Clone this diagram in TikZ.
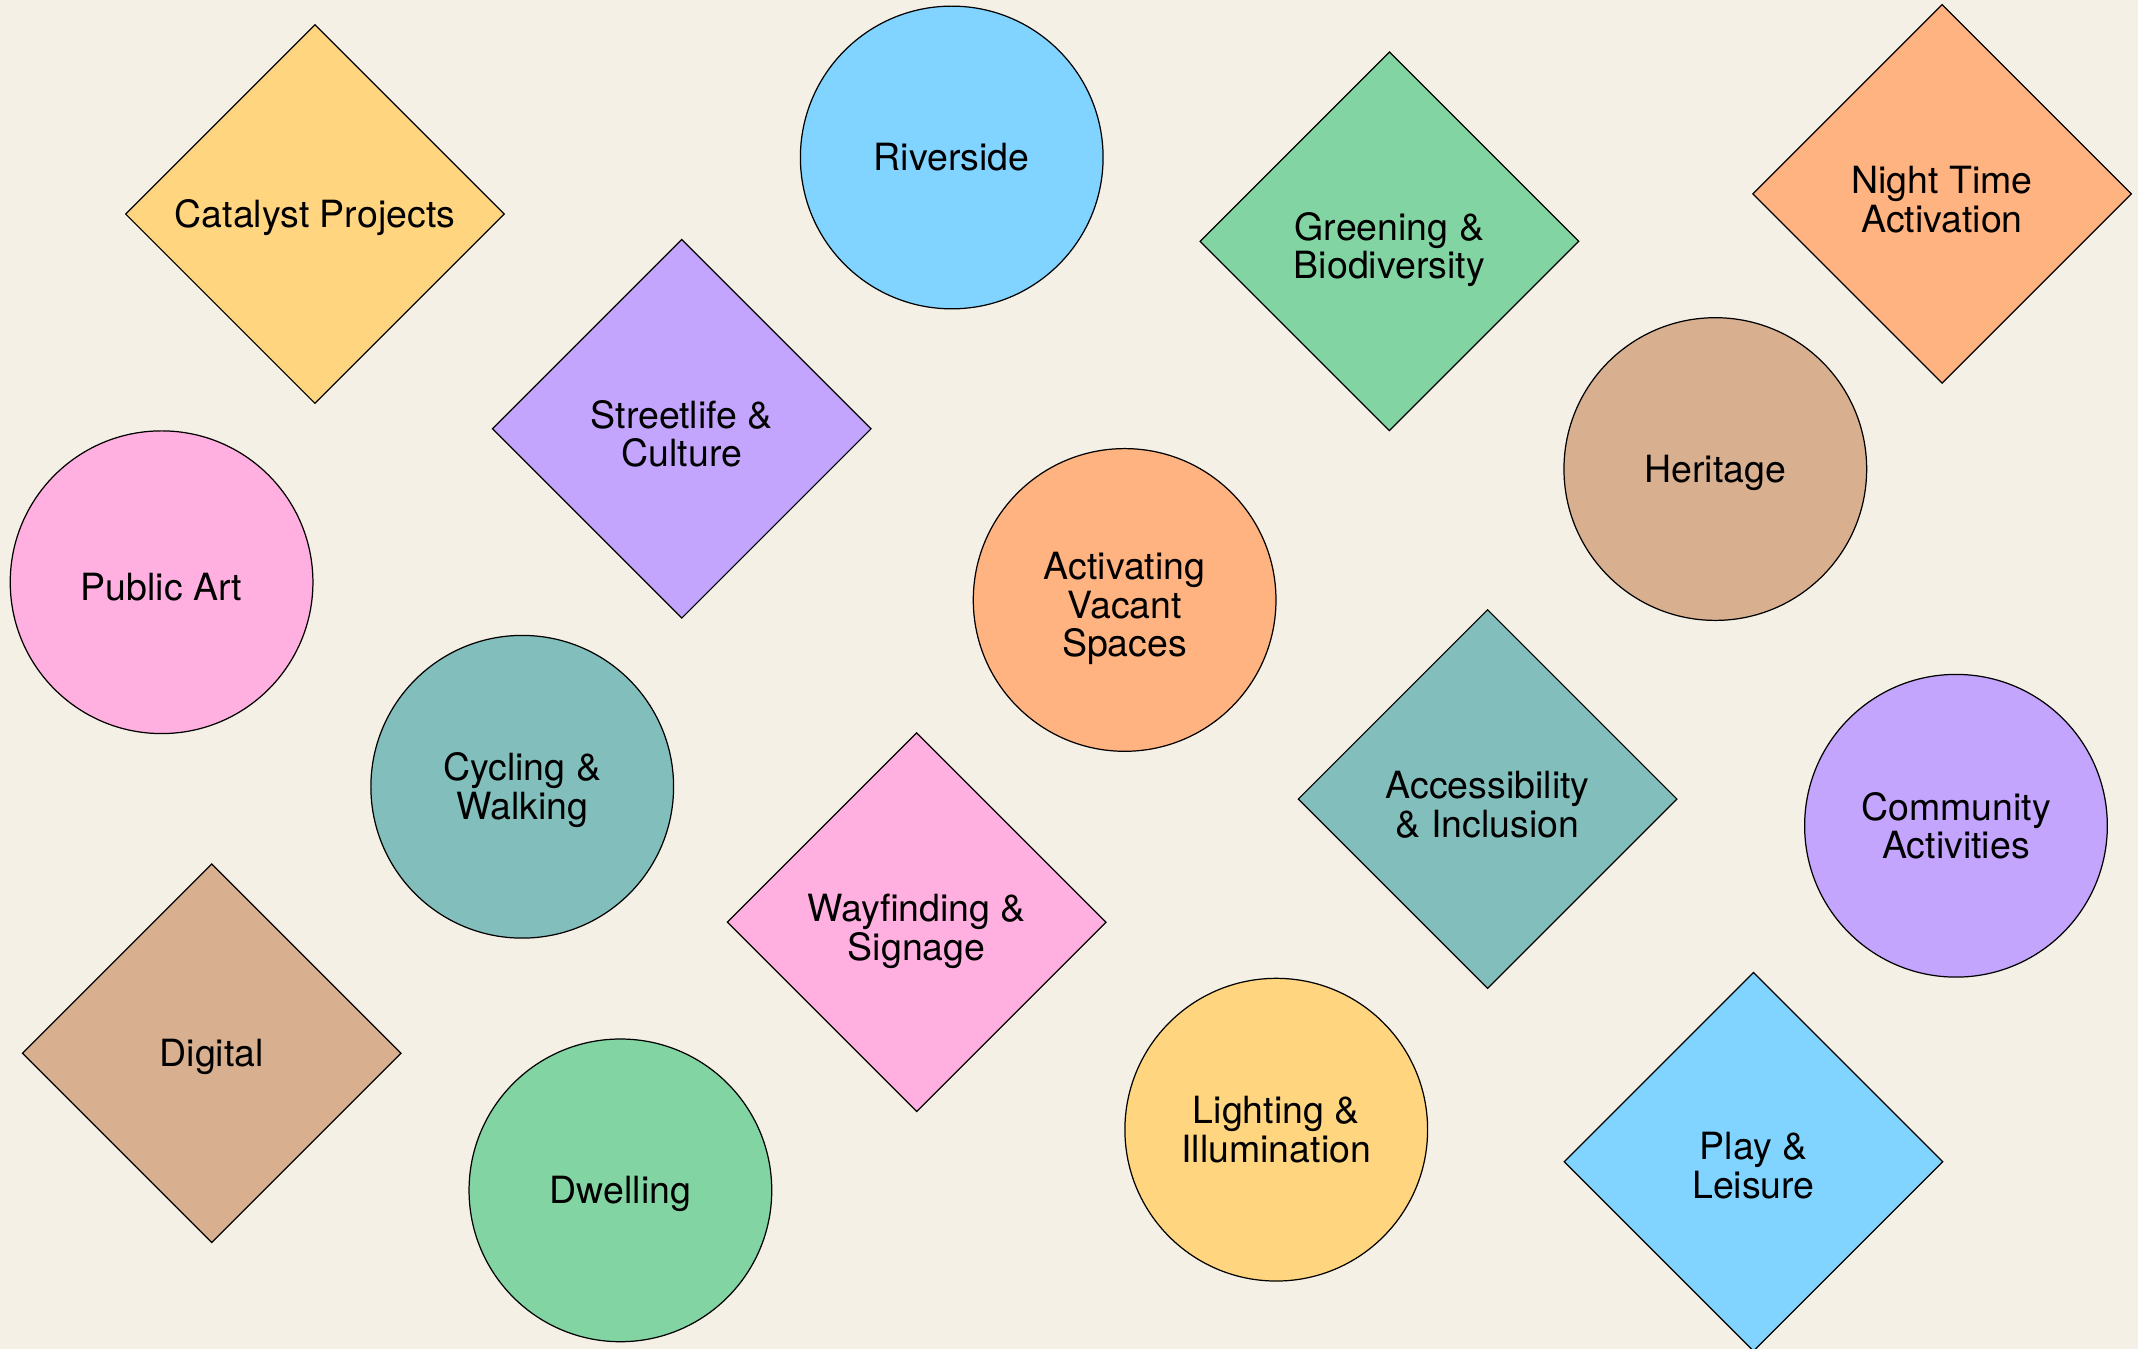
\documentclass[tikz,border=0pt]{standalone}
\usepackage{fontspec}
\setmainfont{TeX Gyre Heros}
\usetikzlibrary{shapes.geometric}
\definecolor{bgc}{HTML}{F5F0E6}
\definecolor{cyel}{HTML}{FFD580}
\definecolor{cpur}{HTML}{C4A5FE}
\definecolor{cblu}{HTML}{80D4FF}
\definecolor{cgrn}{HTML}{82D5A3}
\definecolor{cora}{HTML}{FFB380}
\definecolor{ctan}{HTML}{D8B090}
\definecolor{cteal}{HTML}{82BEBB}
\definecolor{cpink}{HTML}{FFB0E0}
\tikzset{
  base/.style={draw=black, line width=0.45pt, inner sep=0pt},
  dia/.style={base, diamond, aspect=1, minimum width=139pt, minimum height=139pt},
  circ/.style={base, circle, minimum size=111pt},
  txt/.style={inner sep=0pt, align=center, text=black,
    font=\fontsize{13.75}{14.2}\selectfont}
}
\begin{document}
\begin{tikzpicture}[x=0.5pt,y=-0.5pt]
\fill[bgc] (0,0) rectangle (1568,989.3);
\useasboundingbox (0,0) rectangle (1568,989.3);
\begin{scope}
\clip (0,0) rectangle (1568,989.3);
% diamonds
\node[dia, fill=cyel] (catalyst) at (231,157) {};
\node[dia, fill=cpur] (street) at (500,314.5) {};
\node[dia, fill=cgrn] (green) at (1019,177) {};
\node[dia, fill=cora] (night) at (1424.3,142.2) {};
\node[dia, fill=cteal] (access) at (1091,586) {};
\node[dia, fill=cpink] (way) at (672.3,676.3) {};
\node[dia, fill=ctan] (digital) at (155.3,772.5) {};
\node[dia, fill=cblu] (play) at (1286,852) {};
% circles
\node[circ, fill=cblu] (river) at (698,115.5) {};
\node[circ, fill=cpink] (art) at (118.5,427) {};
\node[circ, fill=cora] (vacant) at (824.8,440) {};
\node[circ, fill=ctan] (heritage) at (1258,344) {};
\node[circ, fill=cteal] (cycle) at (383,577) {};
\node[circ, fill=cpur] (comm) at (1434.5,605.6) {};
\node[circ, fill=cyel] (light) at (936,828.5) {};
\node[circ, fill=cgrn] (dwell) at (455,873) {};
\end{scope}
% labels
\node[txt, yshift=-1.45pt] (catalyst-t) at (catalyst.center) {Catalyst Projects};
\node[txt, yshift=-1.8pt] (street-t) at (street.center) {Streetlife \&\\Culture};
\node[txt, yshift=-3pt] (green-t) at (green.center) {Greening \&\\Biodiversity};
\node[txt, yshift=-2pt] (night-t) at (night.center) {Night Time\\Activation};
\node[txt, yshift=-2pt] (access-t) at (access.center) {Accessibility\\\& Inclusion};
\node[txt, yshift=-3.45pt] (way-t) at (way.center) {Wayfinding \&\\Signage};
\node[txt, yshift=-1.2pt] (digital-t) at (digital.center) {Digital};
\node[txt, yshift=-1.5pt] (play-t) at (play.center) {Play \&\\Leisure};
\node[txt] (river-t) at (river.center) {Riverside};
\node[txt, yshift=-1.75pt] (art-t) at (art.center) {Public Art};
\node[txt, yshift=-3.15pt] (vacant-t) at (vacant.center) {Activating\\Vacant\\Spaces};
\node[txt, yshift=-1.25pt] (heritage-t) at (heritage.center) {Heritage};
\node[txt, yshift=-1.25pt] (cycle-t) at (cycle.center) {Cycling \&\\Walking};
\node[txt] (comm-t) at (comm.center) {Community\\Activities};
\node[txt] (light-t) at (light.center) {Lighting \&\\Illumination};
\node[txt, yshift=-1.25pt] (dwell-t) at (dwell.center) {Dwelling};
\end{tikzpicture}
\end{document}
